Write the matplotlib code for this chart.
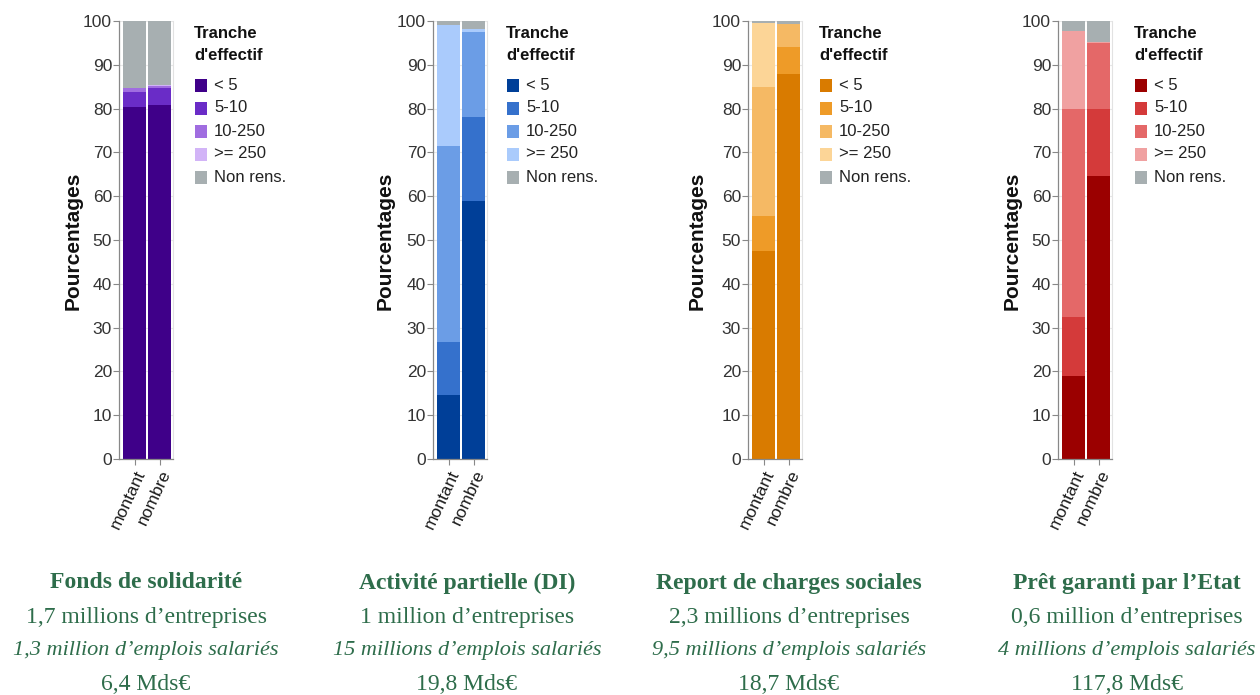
import matplotlib
matplotlib.use("Agg")
import matplotlib.pyplot as plt
from matplotlib.patches import Rectangle
import numpy as np

W, H = 1260, 695

# ---------------------------------------------------------------------------
# Data (shares in %, bottom -> top, columns = montant / nombre)
# ---------------------------------------------------------------------------
CATEGORIES = ["montant", "nombre"]
TRANCHES = ["< 5", "5-10", "10-250", ">= 250", "Non rens."]

FONDS = [[80.4, 80.9], [3.4, 3.7], [0.8, 0.5], [0.2, 0.2], [15.2, 14.7]]
ACTIVITE = [[14.5, 59.0], [12.2, 19.0], [44.8, 19.5], [27.5, 0.7], [1.0, 1.8]]
REPORT = [[47.5, 88.0], [8.0, 6.0], [29.5, 5.3], [14.5, 0.1], [0.5, 0.6]]
PGE = [[19.0, 64.5], [13.5, 15.5], [47.3, 15.0], [18.0, 0.1], [2.2, 4.9]]

TITLES = ["Fonds de solidarité", "Activité partielle (DI)",
          "Report de charges sociales", "Prêt garanti par l\u2019Etat"]
ENTREPRISES = ["1,7 millions d\u2019entreprises", "1 million d\u2019entreprises",
               "2,3 millions d\u2019entreprises", "0,6 million d\u2019entreprises"]
EMPLOIS = ["1,3 million d\u2019emplois salariés", "15 millions d\u2019emplois salariés",
           "9,5 millions d\u2019emplois salariés", "4 millions d\u2019emplois salariés"]
MONTANTS = ["6,4 Mds€", "19,8 Mds€", "18,7 Mds€", "117,8 Mds€"]

GREY = "#a7afb1"
PALETTES = [
    ["#3f0089", "#6a2cc7", "#a06de0", "#d2b4f7", GREY],
    ["#003f98", "#3571cc", "#6b9de6", "#aacbfc", GREY],
    ["#d97b00", "#ee9b28", "#f5b964", "#fcd597", GREY],
    ["#9b0000", "#d43a3a", "#e46868", "#f0a1a1", GREY],
]

# pixel layout
AX_LEFT = [119, 433, 748, 1058]
LEG_X = [195, 507, 820, 1135]
YLAB_X = [73, 385, 697, 1012]
TEXT_X = [146, 467, 789, 1127]
AX_W = 54
AX_TOP, AX_BOT = 21, 459

GREEN = "#2e6d4b"
SANS = ["Liberation Sans", "DejaVu Sans"]
SERIF = ["Liberation Serif", "DejaVu Serif"]

plt.rcParams.update({
    "font.family": SANS,
    "font.size": 12,
})


def px(x, y):
    """pixel (from top-left) -> figure fraction"""
    return x / W, 1 - y / H


fig = plt.figure(figsize=(W / 100, H / 100), dpi=100)

for k, data in enumerate([FONDS, ACTIVITE, REPORT, PGE]):
    colors = PALETTES[k]
    ax = fig.add_axes([AX_LEFT[k] / W, 1 - AX_BOT / H, AX_W / W, (AX_BOT - AX_TOP) / H])
    x = np.arange(len(CATEGORIES))
    bottom = np.zeros(len(CATEGORIES))
    for i, name in enumerate(TRANCHES):
        vals = np.array(data[i])
        ax.bar(x, vals, width=0.92, bottom=bottom, color=colors[i],
               edgecolor="none", zorder=2)
        bottom += vals

    ax.set_xlim(-0.62, 1.54)
    ax.set_ylim(0, 100)
    ax.set_yticks(np.arange(0, 101, 10))
    ax.yaxis.grid(True, color="#e8e8e8", lw=0.8, zorder=0)
    ax.set_axisbelow(True)
    ax.set_xticks(x)
    ax.set_xticklabels(CATEGORIES, rotation=65, ha="right", va="top",
                       rotation_mode="anchor", fontsize=12.5)
    ax.tick_params(axis="y", color="#888888", labelcolor="#333333",
                   length=4, width=0.8, labelsize=12.5, pad=1)
    ax.tick_params(axis="x", color="#888888", labelcolor="#1a1a1a",
                   length=4, width=0.8, pad=2)
    for s in ["left", "bottom"]:
        ax.spines[s].set_color("#888888")
        ax.spines[s].set_linewidth(0.9)
    ax.spines["top"].set_visible(False)
    ax.spines["right"].set_color("#e2e2e2")

    # y label
    fig.text(*px(YLAB_X[k], 241), "Pourcentages", rotation=90, ha="center",
             va="center", fontsize=15, fontweight="bold", color="#111111")

    # legend
    lx = LEG_X[k]
    fig.text(*px(lx - 1, 33), "Tranche", ha="left", va="center",
             fontsize=12, fontweight="bold", color="#111111")
    fig.text(*px(lx - 1, 56), "d'effectif", ha="left", va="center",
             fontsize=12, fontweight="bold", color="#111111")
    for i, name in enumerate(TRANCHES):
        yc = 85 + i * 23
        x0, y0 = px(lx, yc + 6.5)
        fig.add_artist(Rectangle((x0, y0), 12 / W, 13 / H, transform=fig.transFigure,
                                 facecolor=colors[i], edgecolor="none"))
        fig.text(*px(lx + 19, yc), name, ha="left", va="center",
                 fontsize=12, color="#222222")

    # text below
    tx = TEXT_X[k]
    fig.text(*px(tx, 583), TITLES[k], ha="center", va="center", fontsize=17,
             fontweight="bold", color=GREEN, family=SERIF)
    fig.text(*px(tx, 617), ENTREPRISES[k], ha="center", va="center", fontsize=17,
             color=GREEN, family=SERIF)
    fig.text(*px(tx, 650), EMPLOIS[k], ha="center", va="center", fontsize=16,
             style="italic", color=GREEN, family=SERIF)
    fig.text(*px(tx, 684), MONTANTS[k], ha="center", va="center", fontsize=17,
             color=GREEN, family=SERIF)

fig.savefig("out.png", dpi=100)
